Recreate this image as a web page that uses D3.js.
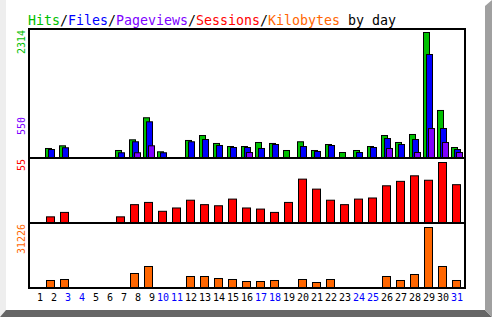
<!DOCTYPE html>
<html><head><meta charset="utf-8">
<script src="https://cdn.jsdelivr.net/npm/d3@7/dist/d3.min.js"></script>
<style>body{margin:0;background:#fff}svg{display:block}</style>
</head><body>
<script>
const days = d3.range(1, 32);
const weekendDays = [3,4,10,11,17,18,24,25,31];
const hits = [0,184,233,0,0,0,147,343,748,123,0,331,422,276,220,220,294,276,147,307,147,257,110,147,220,422,294,441,2314,882,202];
const files = [0,165,197,0,0,0,105,307,674,105,0,307,349,239,202,202,184,257,0,220,129,239,0,110,202,367,257,349,1910,551,165];
const pageviews = [0,0,0,0,0,0,0,105,233,0,0,0,0,0,0,110,0,0,0,0,0,0,0,0,0,184,0,110,550,294,110];
const sessions = [0,6,10,0,0,0,6,17,19,11,14,21,17,16,22,14,13,10,19,40,31,21,17,22,23,34,38,43,39,55,35];
const kbytes = [0,4096,4608,0,0,0,0,7680,11264,0,0,6144,6144,5120,4608,3584,3584,4096,0,4608,3072,4608,0,0,0,6144,4096,7168,31226,11264,4096];
const titleParts = [["Hits","#00c000"],["/","#000"],["Files","#0000ff"],["/","#000"],["Pageviews","#8000ff"],["/","#000"],["Sessions","#ff0000"],["/","#000"],["Kilobytes","#ff6600"],[" by day","#000"]];

const W = 492, H = 317;
const C = {hits:"#00c000", files:"#0000ff", pages:"#8000ff", sess:"#ff0000", kb:"#ff6600"};
const svg = d3.select("body").append("svg").attr("width", W).attr("height", H);
const mono = "'DejaVu Sans Mono', monospace";

// frame
svg.append("polygon").attr("points","0,0 6,0 6,310 0,317").attr("fill","#eeeeee");
svg.append("polygon").attr("points","0,317 6,310 485,310 492,317").attr("fill","#666666");
svg.append("polygon").attr("points","485,6 492,0 492,317 485,310").attr("fill","#a0a0a0");

// title
const t = svg.append("text").attr("transform", "translate(28,25) scale(1,1.12)")
  .attr("font-family", mono).attr("font-size", 13.3);
titleParts.forEach(([s,c]) => t.append("tspan").attr("fill", c).text(s));

const x = d3.scaleBand().domain(days).range([31, 465]);
const yTop = d3.scaleLinear().domain([0, d3.max(hits)]).range([158, 32]);
const ySes = d3.scaleLinear().domain([0, d3.max(sessions)]).range([223, 162]);
const yKb = d3.scaleLinear().domain([0, d3.max(kbytes)]).range([288, 227]);

function bars(data, y, off, w, color) {
  svg.append("g").selectAll("rect").data(days.filter((d,i)=>data[i]>0)).join("rect")
    .attr("x", d => x(d) + off + 0.5)
    .attr("y", d => y(data[d-1]) + 0.5)
    .attr("width", w - 1)
    .attr("height", d => y(0) - y(data[d-1]))
    .attr("fill", color).attr("stroke", "#000").attr("stroke-width", 1);
}
bars(hits, yTop, 0, 7, C.hits);
bars(files, yTop, 3, 7, C.files);
bars(pageviews, yTop, 5, 7, C.pages);
bars(sessions, ySes, 1, 9, C.sess);
bars(kbytes, yKb, 1, 9, C.kb);

// frame box and dividers
const g = svg.append("g").attr("stroke", "#000").attr("stroke-width", 2).attr("fill", "none");
g.append("rect").attr("x", 29).attr("y", 29).attr("width", 436).attr("height", 259);
[yTop(0), ySes(0)].forEach(yy => g.append("line").attr("x1", 29).attr("x2", 465).attr("y1", yy).attr("y2", yy));

// y labels
function yLabel(text, color, yEnd) {
  svg.append("text").attr("transform", `translate(25,${yEnd}) rotate(-90)`)
    .attr("text-anchor", "end").attr("font-family", mono).attr("font-size", 10)
    .attr("fill", color).text(text);
}
yLabel(d3.max(hits), C.hits, 30);
yLabel(d3.max(pageviews), C.pages, 117);
yLabel(d3.max(sessions), C.sess, 159);
yLabel(d3.max(kbytes), C.kb, 224);

// x labels
svg.append("g").selectAll("text").data(days).join("text")
  .attr("x", d => x(d) + 12).attr("y", 301)
  .attr("text-anchor", "end").attr("font-family", mono).attr("font-size", 10)
  .attr("fill", d => weekendDays.includes(d) ? "#0000ff" : "#000")
  .text(d => d);
</script>
</body></html>
